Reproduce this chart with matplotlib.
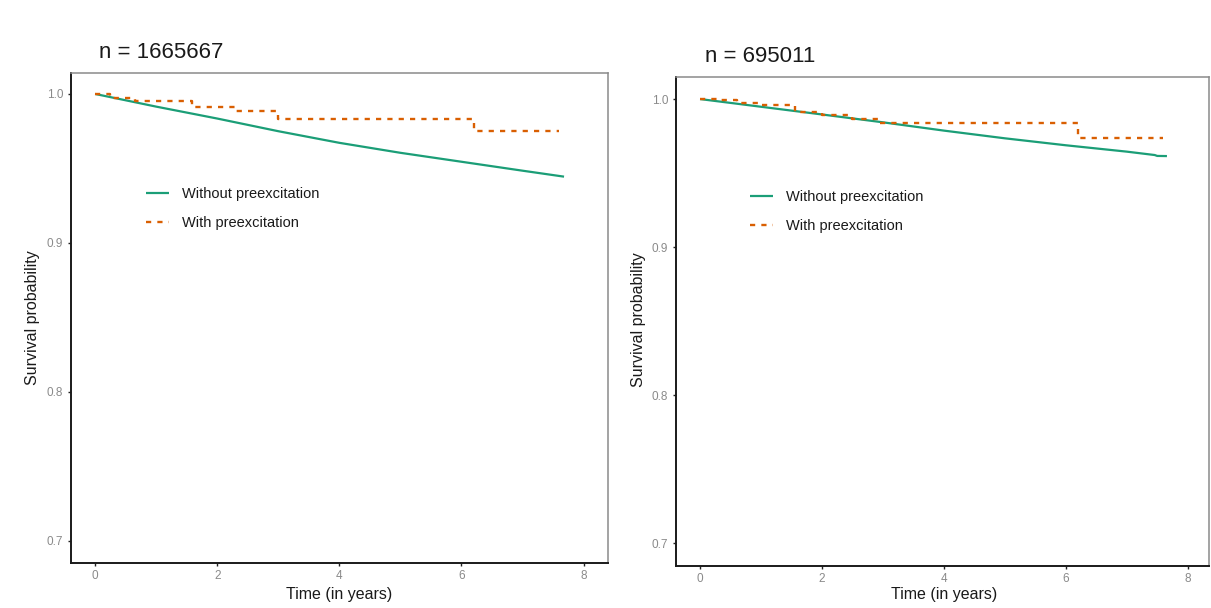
import matplotlib
matplotlib.use("Agg")
import matplotlib.pyplot as plt

plt.rcParams['font.family'] = ['Liberation Sans', 'DejaVu Sans']

# ---------------- data ----------------
series_labels = ["Without preexcitation", "With preexcitation"]
titles = ["n = 1665667", "n = 695011"]
x_ticks = [0, 2, 4, 6, 8]
y_ticks = [0.7, 0.8, 0.9, 1.0]
y_tick_labels = ["0.7", "0.8", "0.9", "1.0"]

# left panel
left_without_t = [0, 1, 2, 3, 4, 5, 6, 7, 7.68]
left_without_s = [1.0, 0.9915, 0.9835, 0.9750, 0.9672, 0.9605, 0.9545, 0.9485, 0.9445]
left_with_t = [0, 0.25, 0.65, 1.58, 2.3, 3.0, 6.2, 7.6]
left_with_s = [1.0, 0.9975, 0.9950, 0.9910, 0.9885, 0.9832, 0.9752, 0.9752]

# right panel
right_without_t = [0, 1, 2, 3, 4, 5, 6, 7, 7.46, 7.5, 7.66]
right_without_s = [1.0, 0.9948, 0.9896, 0.9843, 0.9787, 0.9735, 0.9688, 0.9645, 0.9622, 0.9616, 0.9615]
right_with_t = [0, 0.3, 0.6, 0.95, 1.55, 2.0, 2.5, 2.95, 6.2, 7.6]
right_with_s = [1.0, 0.9993, 0.9975, 0.9960, 0.9915, 0.9895, 0.9868, 0.9838, 0.9737, 0.9737]

GREEN = "#1b9e77"
ORANGE = "#d95f02"

W, H = 1211, 608
fig = plt.figure(figsize=(W / 100, H / 100), dpi=100)


def frac_box(x0, y0, x1, y1):
    return [x0 / W, 1 - y1 / H, (x1 - x0) / W, (y1 - y0) / H]


panels = [
    dict(box=(70.7, 72.5, 608.0, 562.7), xlim=(-0.4, 8.4), ylim=(0.6854, 1.0144),
         g=(left_without_t, left_without_s), o=(left_with_t, left_with_s),
         title=titles[0], title_xy=(99, 52), ylab_xy=(33, 318), xlab_xy=(339, 594),
         leg_xy=(146, 187)),
    dict(box=(675.7, 76.7, 1209.0, 565.7), xlim=(-0.4, 8.35), ylim=(0.6849, 1.0151),
         g=(right_without_t, right_without_s), o=(right_with_t, right_with_s),
         title=titles[1], title_xy=(705, 57), ylab_xy=(638, 320), xlab_xy=(944, 595),
         leg_xy=(750, 190)),
]

for p in panels:
    ax = fig.add_axes(frac_box(*p["box"]))
    ax.plot(p["g"][0], p["g"][1], color=GREEN, lw=1.6, solid_capstyle="butt",
            label=series_labels[0])
    ax.step(p["o"][0], p["o"][1], where="post", color=ORANGE, lw=1.7,
            dashes=(2.2, 2.6), label=series_labels[1])
    ax.set_xlim(*p["xlim"])
    ax.set_ylim(*p["ylim"])
    ax.set_xticks(x_ticks)
    ax.set_xticklabels([str(t) for t in x_ticks])
    ax.set_yticks(y_ticks)
    ax.set_yticklabels(y_tick_labels)
    ax.tick_params(axis="both", length=2.5, width=1.0, color="#222222",
                   labelcolor="#8a8a8a", labelsize=8.5, pad=3)
    for side in ("left", "bottom"):
        ax.spines[side].set_color("#1a1a1a")
        ax.spines[side].set_linewidth(1.4)
    for side in ("top", "right"):
        ax.spines[side].set_color("#8a8a8a")
        ax.spines[side].set_linewidth(1.1)

    fig.text(p["title_xy"][0] / W, 1 - p["title_xy"][1] / H, p["title"],
             ha="left", va="center", fontsize=16, color="#1a1a1a")
    fig.text(p["ylab_xy"][0] / W, 1 - p["ylab_xy"][1] / H, "Survival probability",
             ha="center", va="center", rotation=90, fontsize=11.5, color="#1a1a1a")
    fig.text(p["xlab_xy"][0] / W, 1 - p["xlab_xy"][1] / H, "Time (in years)",
             ha="center", va="center", fontsize=11.5, color="#1a1a1a")

    leg = ax.legend(loc="upper left",
                    bbox_to_anchor=(p["leg_xy"][0] / W, 1 - p["leg_xy"][1] / H),
                    bbox_transform=fig.transFigure, frameon=False, fontsize=10.5,
                    borderpad=0, borderaxespad=0, handlelength=1.6,
                    handletextpad=0.9, labelspacing=1.05)
    for t in leg.get_texts():
        t.set_color("#1a1a1a")

fig.savefig("out.png", dpi=100)
